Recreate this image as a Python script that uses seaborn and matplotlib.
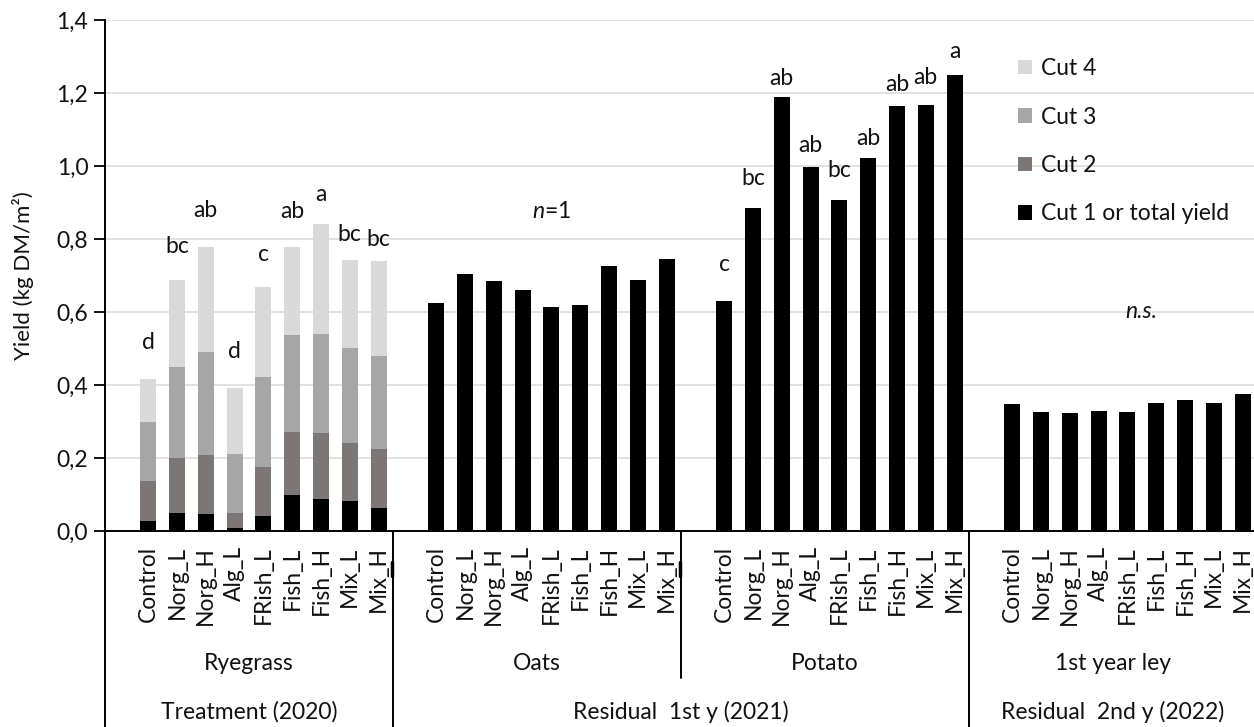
import numpy as np
import pandas as pd
import matplotlib
matplotlib.use("Agg")
import matplotlib.pyplot as plt
import seaborn as sns
from matplotlib.transforms import blended_transform_factory
from matplotlib.patches import Patch
from matplotlib.lines import Line2D

# ---- data -------------------------------------------------------------
treatments = ["Control", "Norg_L", "Norg_H", "Alg_L", "FRish_L",
              "Fish_L", "Fish_H", "Mix_L", "Mix_H"]
crops = ["Ryegrass", "Oats", "Potato", "1st year ley"]
periods = ["Treatment (2020)", "Residual  1st y (2021)", "Residual  2nd y (2022)"]

# Ryegrass yield per cut (kg DM/m2)
ryegrass_cut1 = [0.028, 0.048, 0.046, 0.007, 0.042, 0.099, 0.088, 0.082, 0.062]
ryegrass_cut2 = [0.109, 0.151, 0.162, 0.043, 0.132, 0.171, 0.180, 0.160, 0.164]
ryegrass_cut3 = [0.161, 0.249, 0.282, 0.161, 0.249, 0.266, 0.271, 0.260, 0.253]
ryegrass_cut4 = [0.118, 0.241, 0.289, 0.180, 0.245, 0.243, 0.302, 0.240, 0.261]

# Total yield of the following crops
oats_total = [0.626, 0.704, 0.685, 0.659, 0.614, 0.620, 0.725, 0.688, 0.744]
potato_total = [0.631, 0.886, 1.190, 0.996, 0.908, 1.021, 1.164, 1.167, 1.249]
ley_total = [0.347, 0.327, 0.324, 0.330, 0.325, 0.350, 0.360, 0.352, 0.375]

# Significance letters
ryegrass_letters = ["d", "bc", "ab", "d", "c", "ab", "a", "bc", "bc"]
potato_letters = ["c", "bc", "ab", "ab", "bc", "ab", "ab", "ab", "a"]
ryegrass_letter_gap = [0.10, 0.09, 0.10, 0.10, 0.09, 0.095, 0.08, 0.07, 0.06]
potato_letter_gap = [0.10, 0.08, 0.05, 0.06, 0.08, 0.055, 0.06, 0.075, 0.065]

# ---- long table -------------------------------------------------------
rows = []
totals = [None, oats_total, potato_total, ley_total]
for ci, crop in enumerate(crops):
    for ti, trt in enumerate(treatments):
        if ci == 0:
            c1, c2, c3, c4 = (ryegrass_cut1[ti], ryegrass_cut2[ti],
                              ryegrass_cut3[ti], ryegrass_cut4[ti])
        else:
            c1, c2, c3, c4 = totals[ci][ti], 0.0, 0.0, 0.0
        rows.append(dict(crop=crop, treatment=trt, pos=10 * ci + ti,
                         cut1=c1, cut2=c2, cut3=c3, cut4=c4))
df = pd.DataFrame(rows)
df["top1"] = df["cut1"]
df["top2"] = df["top1"] + df["cut2"]
df["top3"] = df["top2"] + df["cut3"]
df["top4"] = df["top3"] + df["cut4"]
rye = df[df["crop"] == "Ryegrass"]

# ---- style ------------------------------------------------------------
sns.set_style("white")
plt.rcParams["font.family"] = ["Lato", "DejaVu Sans"]
plt.rcParams["mathtext.fontset"] = "custom"
plt.rcParams["mathtext.it"] = "Lato:italic"
plt.rcParams["mathtext.rm"] = "Lato"
FS = 16.5
TXT = "#111111"

cut_colors = {"Cut 4": "#d9d9d9", "Cut 3": "#a6a6a6",
              "Cut 2": "#7d7676", "Cut 1 or total yield": "#000000"}

fig = plt.figure(figsize=(12.54, 7.27), dpi=100)
ax = fig.add_axes([105 / 1254, 1 - 531 / 727, 1152 / 1254, 511 / 727])

# stacked ryegrass layers drawn from the tallest down, then cut 1 / totals
for col, key in [("top4", "Cut 4"), ("top3", "Cut 3"), ("top2", "Cut 2")]:
    sns.barplot(data=rye, x="pos", y=col, native_scale=True, width=0.56,
                color=cut_colors[key], saturation=1, linewidth=0,
                errorbar=None, ax=ax, zorder=2)
sns.barplot(data=df, x="pos", y="top1", native_scale=True, width=0.56,
            color=cut_colors["Cut 1 or total yield"], saturation=1,
            linewidth=0, errorbar=None, ax=ax, zorder=2)

# ---- axes -------------------------------------------------------------
ax.set_xlim(-1.5, 38.5)
ax.set_ylim(0, 1.4)
yt = np.arange(0, 1.41, 0.2)
ax.set_yticks(yt)
ax.set_yticklabels([f"{v:.1f}".replace(".", ",") for v in yt],
                   fontsize=FS, color=TXT)
ax.set_xticks(df["pos"])
ax.set_xticklabels(df["treatment"], rotation=90, fontsize=FS, color=TXT,
                   va="top", ha="center")
ax.tick_params(axis="x", length=0, pad=11)
ax.tick_params(axis="y", length=8, width=1.3, color="black", pad=4,
               direction="out", left=True)
ax.set_xlabel("")
ax.set_ylabel("Yield (kg DM/m²)", fontsize=FS - 0.5, color=TXT, labelpad=16)
ax.yaxis.grid(True, color="#d9d9d9", lw=1.1)
ax.set_axisbelow(True)
for s in ["top", "right"]:
    ax.spines[s].set_visible(False)
for s in ["left", "bottom"]:
    ax.spines[s].set_color("black")
    ax.spines[s].set_linewidth(1.4)

# ---- significance letters and notes ----------------------------------
for ti in range(len(treatments)):
    r = rye.iloc[ti]
    ax.text(r["pos"], r["top4"] + ryegrass_letter_gap[ti], ryegrass_letters[ti],
            ha="center", va="center", fontsize=FS, color=TXT)
pot = df[df["crop"] == "Potato"]
for ti in range(len(treatments)):
    r = pot.iloc[ti]
    ax.text(r["pos"], r["top1"] + potato_letter_gap[ti], potato_letters[ti],
            ha="center", va="center", fontsize=FS, color=TXT)
ax.text(14, 0.875, "$n$=1", ha="center", va="center", fontsize=FS, color=TXT)
ax.text(34.5, 0.60, "n.s.", ha="center", va="center", fontsize=FS,
        color=TXT, fontstyle="italic")

# ---- grouped category axis below the plot -----------------------------
tr = blended_transform_factory(ax.transData, fig.transFigure)
y_axis = 1 - 531 / 727
y_mid = 1 - 678 / 727
bounds = [-1.5, 8.5, 18.5, 28.5, 38.5]
for x, y_end in [(-1.5, 0.0), (8.5, 0.0), (18.5, y_mid), (28.5, 0.0)]:
    fig.add_artist(Line2D([x, x], [y_axis, y_end], transform=tr,
                          color="black", lw=1.4, clip_on=False))
for x in [8.5, 18.5]:
    fig.add_artist(Line2D([x - 0.05, x - 0.05], [1 - 562 / 727, 1 - 576 / 727],
                          transform=tr, color="black", lw=2.5, clip_on=False))

for ci, crop in enumerate(crops):
    xc = (bounds[ci] + bounds[ci + 1]) / 2
    fig.text(xc, 1 - 663 / 727, crop, transform=tr, ha="center", va="center",
             fontsize=FS, color=TXT)
period_spans = [(bounds[0], bounds[1]), (bounds[1], bounds[3]),
                (bounds[3], bounds[4])]
for (a, b), label in zip(period_spans, periods):
    fig.text((a + b) / 2, 1 - 712 / 727, label, transform=tr, ha="center",
             va="center", fontsize=FS, color=TXT)

# ---- legend -----------------------------------------------------------
handles = [Patch(facecolor=c, edgecolor="none") for c in cut_colors.values()]
ax.legend(handles, list(cut_colors.keys()), loc="upper left",
          bbox_to_anchor=(1018 / 1254, 1 - 58 / 727),
          bbox_transform=fig.transFigure, frameon=False, fontsize=FS,
          handlelength=0.6, handleheight=0.6, handletextpad=0.4,
          labelspacing=1.2, borderaxespad=0, borderpad=0,
          labelcolor=TXT)

fig.savefig("out.png", dpi=100)
